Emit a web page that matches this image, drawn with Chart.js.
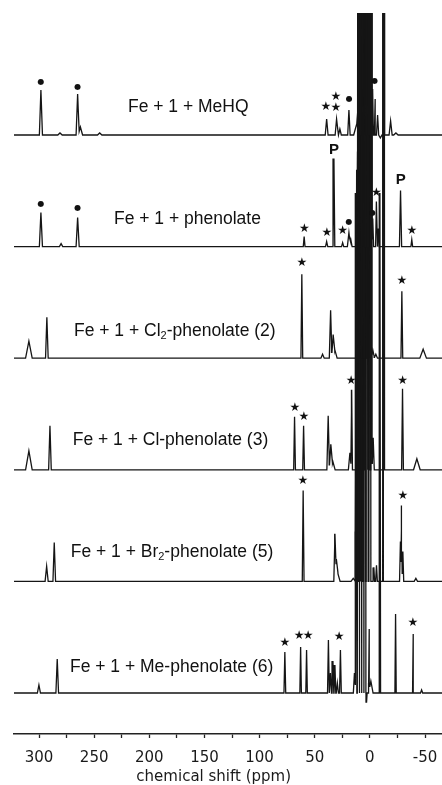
<!DOCTYPE html>
<html>
<head>
<meta charset="utf-8">
<script src="https://cdn.jsdelivr.net/npm/chart.js@4.4.0/dist/chart.umd.min.js"></script>
<style>
html, body { margin: 0; padding: 0; background: #fff; }
canvas { display: block; }
</style>
</head>
<body>
<canvas id="espectro" width="442" height="785"></canvas>
<script>
// peaks: [shift (ppm), height, half width (ppm)]
// 2000 = off scale (the big diamagnetic lines run off the top)
const peaksMeHQ = [
    [298.3, 45, 1.4], [281, 2, 2], [265, 41, 1.4], [262.5, 8, 2], [245, 2, 2],
    [39.2, 16, 1.3], [30.2, 16, 1.3], [27.2, 6, 1.3], [19, 25, 1.1],
    [12.2, 10, 2.5], [10.8, 22, 1.2],
    [9.5, 2000, 0.9], [7, 2000, 0.9], [4.5, 2000, 0.9], [2, 2000, 0.9], [-0.5, 2000, 0.9],
    [-2.5, 46, 0.7], [-4.8, 36, 0.7], [-7, 20, 1], [-9.5, -3, 1.5],
    [-12.8, 2000, 0.6], [-18.8, 14, 1.4], [-23.6, 2, 2]
]
const peaksPhenolate = [
    [298.3, 34, 1.4], [280, 3, 1.5], [265, 29, 1.4],
    [59.6, 10, 0.8], [39.2, 5, 1], [32.6, 88, 0.8], [24.7, 4, 1], [19, 14, 1.4], [17.3, 7, 1.2],
    [11.2, 95, 0.7],
    [10, 2000, 0.9], [8, 2000, 0.9], [5.5, 2000, 0.9], [3, 2000, 0.9], [0.5, 2000, 0.9], [-1.3, 2000, 0.7],
    [-2.6, 28, 0.8], [-5.9, 45, 0.7], [-7.7, 18, 0.8],
    [-13.1, 2000, 0.6], [-27.8, 56, 1], [-38, 7, 0.8]
]
const peaksCl2 = [
    [309.2, 17, 3], [292.9, 41, 1.2],
    [61.7, 84, 0.8], [42.9, 4, 1.5], [35.6, 48, 1.2], [33.3, 22, 1.5], [31.7, 8, 2],
    [9, 2000, 0.9], [6.5, 2000, 0.9], [4, 2000, 0.9], [1.5, 2000, 0.9], [-1, 2000, 0.9],
    [-2.7, 8, 1.5], [-5.4, 4, 1.5],
    [-12.5, 2000, 0.6], [-29, 67, 0.8], [-48.3, 9, 3]
]
const peaksCl = [
    [309.2, 19, 3], [290.1, 44, 1.2],
    [68.3, 53, 0.8], [60.1, 44, 0.8], [37.8, 54, 1.2], [35.4, 25, 1.5], [33.5, 8, 2],
    [18.1, 17, 1.4], [16.5, 80, 0.7], [12, 300, 0.8],
    [8.5, 2000, 0.9], [6, 2000, 0.9], [3.5, 2000, 0.9], [1, 2000, 0.9], [-1.5, 2000, 0.7],
    [-3, 32, 1],
    [-12.7, 2000, 0.6], [-29.6, 81, 0.8], [-42.6, 11, 3]
]
const peaksBr2 = [
    [293.1, 15, 1.4], [286.2, 39, 1.2],
    [60.5, 91, 0.8], [31.7, 45, 1], [30.4, 20, 1.5], [29, 8, 2], [15.1, 3, 2],
    [12.5, 200, 0.8],
    [9.5, 2000, 0.9], [7.5, 2000, 0.9], [5, 2000, 0.9], [2.5, 2000, 0.9], [0, 2000, 0.9],
    [-3.6, 14, 0.7], [-6, 16, 0.8],
    [-12.2, 2000, 0.6],
    [-27.7, 40, 0.8], [-28.7, 76, 0.6], [-29.9, 30, 0.8], [-41.7, 3, 1.5]
]
const peaksMe = [
    [300.1, 8, 1.4], [283.5, 34, 1.2],
    [77.1, 41, 0.8], [62.8, 46, 0.7], [57.4, 43, 0.7],
    [37.6, 53, 0.8], [35.8, 20, 1], [33.5, 32, 0.8], [31.7, 28, 0.8], [29.5, 10, 1], [26.7, 43, 0.8],
    [14, 20, 1],
    [12.6, 500, 0.8], [10.5, 2000, 0.9], [8.5, 2000, 0.9], [6.5, 2000, 0.9], [4.5, 2000, 0.9],
    [3, -9, 0.5], [0.6, 61, 0.6], [-0.9, 12, 2],
    [-9.1, 500, 0.6], [-23.3, 79, 0.6], [-39.3, 59, 0.6], [-46.9, 3, 1]
]

// peak assignments: [shift (ppm), height above baseline, symbol]
const marksMeHQ = [[298.3, 53, 'dot'], [264.8, 48, 'dot'], [39.9, 28, 'star'], [30.8, 38, 'star'],
    [30.8, 27, 'star'], [18.8, 36, 'dot'], [-4.5, 54, 'dot']]
const marksPhenolate = [[298.3, 43, 'dot'], [265, 39, 'dot'], [59.4, 18, 'star'], [39, 14, 'star'],
    [32.6, 97, 'P'], [24.8, 16, 'star'], [19, 25, 'dot'], [-2.3, 34, 'dot'], [-5.9, 53.5, 'star'],
    [-28.1, 67, 'P'], [-38, 16, 'star']]
const marksCl2 = [[61.7, 95, 'star'], [-29, 77, 'star']]
const marksCl = [[68, 62, 'star'], [59.8, 53, 'star'], [17, 89, 'star'], [-29.6, 88.5, 'star']]
const marksBr2 = [[60.7, 101, 'star'], [-29.9, 86, 'star']]
const marksMe = [[77, 50, 'star'], [64.1, 57, 'star'], [56, 57, 'star'], [27.8, 56, 'star'], [-39, 70, 'star']]

// trace names, middle part (if any) is a subscript
const nombres = [
    ['Fe + 1 + MeHQ'],
    ['Fe + 1 + phenolate'],
    ['Fe + 1 + Cl', '2', '-phenolate (2)'],
    ['Fe + 1 + Cl-phenolate (3)'],
    ['Fe + 1 + Br', '2', '-phenolate (5)'],
    ['Fe + 1 + Me-phenolate (6)']
]

// axis ticks (labelled every 50 ppm)
const tickValues = [300, 275, 250, 225, 200, 175, 150, 125, 100, 75, 50, 25, 0, -25, -50]
const ejeMin = -65.4
const ejeMax = 322.7

const espectros = [peaksMeHQ, peaksPhenolate, peaksCl2, peaksCl, peaksBr2, peaksMe]
const marcas = [marksMeHQ, marksPhenolate, marksCl2, marksCl, marksBr2, marksMe]

// layout of the stack
const baseOffset = 41
const spacing = 111.6
const labelPos = [[128, 112], [114, 224], [74, 336], [72.7, 445], [70.7, 557], [70, 672]]

function offsetFor(i) {
    return baseOffset + (espectros.length - 1 - i) * spacing
}

// sum of triangular peaks, evaluated at every corner
function buildTrace(peaks, offset) {
    const xs = [ejeMin, ejeMax]
    peaks.forEach(p => {
        xs.push(p[0] - p[2], p[0], p[0] + p[2])
    })
    xs.sort((a, b) => a - b)
    return xs.map(x => {
        let y = 0
        peaks.forEach(p => {
            const d = Math.abs(x - p[0])
            if (d < p[2]) y += p[1] * (1 - d / p[2])
        })
        return { x: x, y: y + offset }
    })
}

const etiquetas = {
    id: 'etiquetas',
    afterDatasetsDraw(chart) {
        const ctx = chart.ctx
        const sx = chart.scales.x
        const sy = chart.scales.y
        ctx.save()
        ctx.fillStyle = '#111'

        // peak marks
        ctx.textAlign = 'center'
        ctx.textBaseline = 'middle'
        marcas.forEach((lista, i) => {
            const off = offsetFor(i)
            lista.forEach(m => {
                const px = sx.getPixelForValue(m[0])
                const py = sy.getPixelForValue(off + m[1])
                if (m[2] === 'star') {
                    ctx.font = '12px "DejaVu Sans"'
                    ctx.fillText('★', px, py)
                } else if (m[2] === 'dot') {
                    ctx.font = '8px "DejaVu Sans"'
                    ctx.fillText('●', px, py)
                } else {
                    ctx.font = 'bold 15px "Liberation Sans"'
                    ctx.fillText(m[2], px, py)
                }
            })
        })

        // trace names
        ctx.textAlign = 'left'
        ctx.textBaseline = 'alphabetic'
        nombres.forEach((partes, i) => {
            let x = labelPos[i][0]
            const y = labelPos[i][1]
            partes.forEach((t, k) => {
                if (k === 1) {
                    ctx.font = '11px "Liberation Sans"'
                    ctx.fillText(t, x, y + 3)
                } else {
                    ctx.font = '17.5px "Liberation Sans"'
                    ctx.fillText(t, x, y)
                }
                x += ctx.measureText(t).width
            })
        })
        ctx.restore()
    }
}

const ctx = document.getElementById('espectro').getContext('2d')
new Chart(ctx, {
    type: 'line',
    data: {
        datasets: espectros.map((p, i) => ({
            data: buildTrace(p, offsetFor(i)),
            borderColor: '#151515',
            borderWidth: 1.3,
            pointRadius: 0,
            tension: 0,
            fill: false
        }))
    },
    options: {
        responsive: false,
        animation: false,
        devicePixelRatio: 1,
        layout: {
            padding: { left: 14, right: 0, top: 13, bottom: 0 }
        },
        plugins: {
            legend: { display: false },
            tooltip: { enabled: false }
        },
        scales: {
            x: {
                type: 'linear',
                reverse: true,
                min: ejeMin,
                max: ejeMax,
                afterBuildTicks: s => {
                    s.ticks = tickValues.map(v => ({ value: v }))
                },
                afterFit: s => {
                    s.height = 51
                    s.paddingLeft = 0
                    s.paddingRight = 0
                },
                ticks: {
                    autoSkip: false,
                    maxRotation: 0,
                    padding: 11,
                    color: '#1a1a1a',
                    font: { family: 'DejaVu Sans', size: 15 },
                    callback: v => (v % 50 === 0 ? v : '')
                },
                grid: {
                    drawOnChartArea: false,
                    drawTicks: true,
                    tickLength: 4,
                    tickWidth: 1.3,
                    tickColor: '#222'
                },
                border: {
                    display: true,
                    color: '#222',
                    width: 1.5
                },
                title: {
                    display: true,
                    text: 'chemical shift (ppm)      ',
                    color: '#1a1a1a',
                    font: { family: 'DejaVu Sans', size: 15, lineHeight: 1 },
                    padding: { top: 0, bottom: 0 }
                }
            },
            y: {
                display: false,
                min: 0,
                max: 721
            }
        }
    },
    plugins: [etiquetas]
})
</script>
</body>
</html>
